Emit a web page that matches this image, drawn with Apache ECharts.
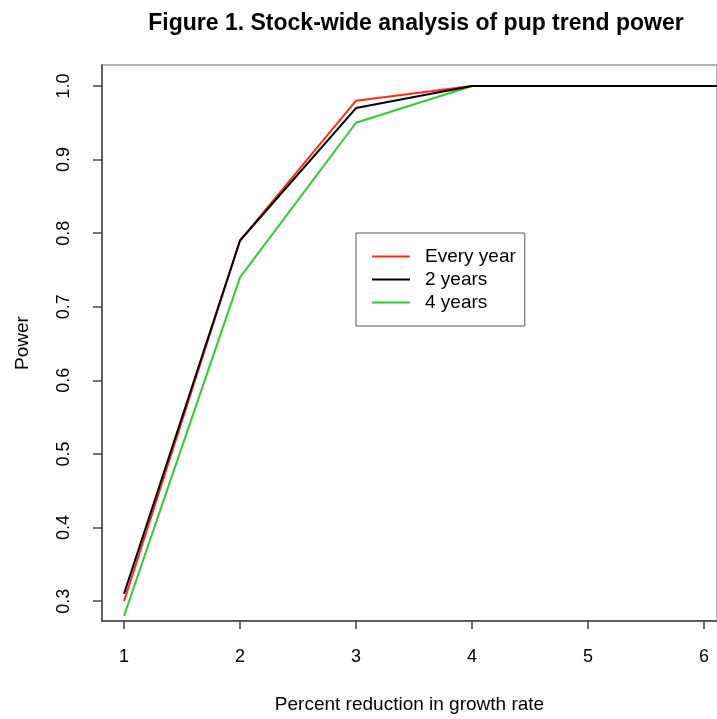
<!DOCTYPE html>
<html>
<head>
<meta charset="utf-8">
<script src="https://cdn.jsdelivr.net/npm/echarts@6/dist/echarts.min.js"></script>
<style>
  html, body { margin: 0; padding: 0; background: #fff; }
  #chart { width: 717px; height: 719px; }
</style>
</head>
<body>
<div id="chart"></div>
<script>
"use strict";
// percent reduction in growth rate
var reduction = [1, 2, 3, 4, 5, 6, 7];
// power by survey frequency
var everyYear = [0.30, 0.79, 0.98, 1.0, 1.0, 1.0, 1.0];
var twoYears = [0.31, 0.79, 0.97, 1.0, 1.0, 1.0, 1.0];
var fourYears = [0.28, 0.74, 0.95, 1.0, 1.0, 1.0, 1.0];
var xTicks = [1, 2, 3, 4, 5, 6];
var yTicks = [0.3, 0.4, 0.5, 0.6, 0.7, 0.8, 0.9, 1.0];

function pairs(ys) {
    return reduction.map(function (x, i) { return [x, ys[i]]; });
}

var font = "'Liberation Sans', Arial, Helvetica, sans-serif";

function line(name, ys, color, z) {
    return {
        name: name, type: "line", data: pairs(ys), symbol: "none", z: z,
        lineStyle: {color: color, width: 2}, itemStyle: {color: color}
    };
}

var chart = echarts.init(document.getElementById("chart"));
chart.setOption({
    animation: false,
    backgroundColor: "#fff",
    title: {
        text: "Figure 1. Stock-wide analysis of pup trend power",
        left: 411, top: 7, textAlign: "center",
        textStyle: {fontFamily: font, fontSize: 23, fontWeight: "bold", color: "#000"}
    },
    grid: {
        left: 102, top: 65, width: 615, height: 557,
        show: true, borderColor: "#999", borderWidth: 1.5
    },
    legend: {
        data: ["Every year", "2 years", "4 years"],
        orient: "vertical", left: 356, top: 233,
        icon: "rect",
        borderColor: "#555", borderWidth: 1,
        padding: [14, 9, 14, 16],
        itemWidth: 38, itemHeight: 2, itemGap: 4,
        textStyle: {fontFamily: font, fontSize: 19, color: "#000", padding: [0, 0, 0, 10]}
    },
    xAxis: {
        type: "value", min: 0.81, max: 6.112,
        name: "Percent reduction in growth rate", nameLocation: "middle", nameGap: 74,
        nameTextStyle: {fontFamily: font, fontSize: 19, color: "#000"},
        axisLine: {lineStyle: {color: "#444", width: 1.5}},
        axisTick: {customValues: xTicks, length: 8, lineStyle: {color: "#444", width: 1.5}},
        axisLabel: {customValues: xTicks, margin: 27, fontFamily: font, fontSize: 18, color: "#000"},
        splitLine: {show: false}
    },
    yAxis: {
        type: "value", min: 0.273, max: 1.0285,
        name: "Power", nameLocation: "middle", nameRotate: 90, nameGap: 70,
        nameTextStyle: {fontFamily: font, fontSize: 19, color: "#000"},
        axisLine: {lineStyle: {color: "#444", width: 1.5}},
        axisTick: {customValues: yTicks, length: 9, lineStyle: {color: "#444", width: 1.5}},
        axisLabel: {
            customValues: yTicks, rotate: 90, margin: 29,
            fontFamily: font, fontSize: 18, color: "#000",
            formatter: function (v) { return v.toFixed(1); }
        },
        splitLine: {show: false}
    },
    series: [
        line("4 years", fourYears, "#2fcc2f", 2),
        line("Every year", everyYear, "#ff2a1a", 3),
        line("2 years", twoYears, "#000000", 4)
    ]
});
</script>
</body>
</html>
